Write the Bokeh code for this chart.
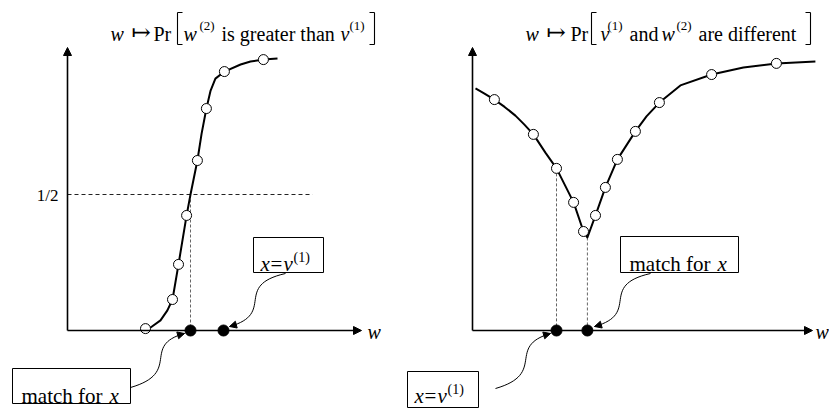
from bokeh.plotting import figure
from bokeh.layouts import row
from bokeh.models import Range1d, Arrow, NormalHead
from bokeh.core.properties import value
from bokeh.embed import file_html
from bokeh.resources import INLINE

# ---- left panel: w -> Pr[w(2) is greater than v(1)] ----
left_curve_w = [2.60, 2.77, 3.10, 3.33, 3.50, 3.70, 3.97, 4.10, 4.33, 4.47, 4.63,
                4.77, 4.93, 5.23, 5.77, 6.10, 6.53, 7.00]
left_curve_p = [0.007, 0.011, 0.037, 0.074, 0.114, 0.243, 0.423, 0.500, 0.625, 0.724,
                0.816, 0.882, 0.926, 0.952, 0.978, 0.989, 0.996, 1.000]
left_marker_w = [2.60, 3.50, 3.70, 3.97, 4.33, 4.63, 5.23, 6.53]
left_marker_p = [0.007, 0.114, 0.243, 0.423, 0.625, 0.816, 0.952, 0.996]
left_match_w = 4.10      # where the curve crosses 1/2
left_v1_w = 5.20
half_level = 0.5
half_label = "1/2"

# ---- right panel: w -> Pr[v(1) and w(2) are different] ----
right_curve_w = [0.10, 0.40, 0.73, 1.07, 1.43, 1.73, 2.03, 2.43, 2.80, 3.37, 3.70, 3.83,
                 4.10, 4.43, 4.83, 5.43, 5.80, 6.23, 6.93, 7.97, 9.03, 10.13, 11.43]
right_curve_p = [0.890, 0.871, 0.849, 0.822, 0.790, 0.757, 0.721, 0.654, 0.596, 0.471,
                 0.364, 0.342, 0.423, 0.526, 0.629, 0.732, 0.787, 0.838, 0.901, 0.941,
                 0.967, 0.982, 0.989]
right_marker_w = [0.73, 2.03, 2.80, 3.37, 3.70, 4.10, 4.43, 4.83, 5.43, 6.23, 7.97, 10.13]
right_marker_p = [0.849, 0.721, 0.596, 0.471, 0.364, 0.423, 0.526, 0.629, 0.732, 0.838,
                  0.941, 0.982]
right_v1_w, right_v1_p = 2.80, 0.596
right_match_w, right_match_p = 3.83, 0.342   # minimum of the curve

# ---- layout constants (screen pixels) ----
H = 408
PX_PER_W = 30
PX_PER_P = 272
BASE_Y = 330
SERIF = value("Liberation Serif, Times New Roman, DejaVu Serif, serif")
SYMBOL = value("DejaVu Serif, serif")


def make_panel(width, left_px, origin_px):
    x0 = (left_px - origin_px) / PX_PER_W
    x1 = (left_px + width - origin_px) / PX_PER_W
    y0 = (BASE_Y - H) / PX_PER_P
    y1 = BASE_Y / PX_PER_P
    p = figure(width=width, height=H, x_range=Range1d(x0, x1), y_range=Range1d(y0, y1),
               output_backend="svg", toolbar_location=None,
               x_axis_location=None, y_axis_location=None,
               min_border=0, outline_line_color=None)
    p.xgrid.visible = False
    p.ygrid.visible = False
    p.background_fill_color = "white"

    def at(sx, sy):
        return (sx - origin_px) / PX_PER_W, (BASE_Y - sy) / PX_PER_P
    return p, at


def text(p, at, sx, sy, s, size=20, style="normal", align="left", baseline="alphabetic",
         font=SERIF):
    x, y = at(sx, sy)
    p.text(x=[x], y=[y], text=[s], text_font=font, text_font_size=f"{size}px",
           text_font_style=style, text_align=align, text_baseline=baseline,
           text_color="black")


def bracket(p, at, sx, tick, top=12, bottom=44):
    xs, ys = [], []
    for a, b in [((sx, top), (sx, bottom)), ((sx, top), (sx + tick, top)),
                 ((sx, bottom), (sx + tick, bottom))]:
        (xa, ya), (xb, yb) = at(*a), at(*b)
        xs.append([xa, xb]); ys.append([ya, yb])
    p.multi_line(xs=xs, ys=ys, line_color="black", line_width=1.1)


def axes(p, at, x_end_px):
    _, ytop = at(0, 47)
    xend, _ = at(x_end_px, BASE_Y)
    head = dict(size=8, fill_color="black", line_color="black", line_width=1)
    p.add_layout(Arrow(x_start=0, y_start=0, x_end=0, y_end=ytop, line_width=1.6,
                       end=NormalHead(**head)))
    p.add_layout(Arrow(x_start=0, y_start=0, x_end=xend, y_end=0, line_width=1.6,
                       end=NormalHead(**head)))


def curvy_arrow(p, at, p0, c0, c1, p1):
    (x0, y0), (cx0, cy0), (cx1, cy1), (x1, y1) = at(*p0), at(*c0), at(*c1), at(*p1)
    p.bezier(x0=[x0], y0=[y0], x1=[x1], y1=[y1], cx0=[cx0], cy0=[cy0], cx1=[cx1],
             cy1=[cy1], line_color="black", line_width=1)
    dx, dy = c1[0] - p1[0], c1[1] - p1[1]
    n = (dx * dx + dy * dy) ** 0.5
    sx, sy = at(p1[0] + 6 * dx / n, p1[1] + 6 * dy / n)
    p.add_layout(Arrow(x_start=sx, y_start=sy, x_end=x1, y_end=y1, line_width=1,
                       end=NormalHead(size=7, fill_color="black", line_color="black",
                                      line_width=1)))


def box(p, at, l, t, r, b):
    (x0, y0), (x1, y1) = at(l, b), at(r, t)
    p.quad(left=[x0], right=[x1], bottom=[y0], top=[y1], fill_color="white",
           line_color="black", line_width=1)


def x_eq_v1(p, at, left, base):
    text(p, at, left + 7, base, "x", size=21, style="italic")
    text(p, at, left + 17, base, "=", size=21)
    text(p, at, left + 30, base, "v", size=21, style="italic")
    text(p, at, left + 40, base - 6, "(1)", size=14)


def match_for_x(p, at, left, base):
    text(p, at, left + 9, base, "match for", size=21)
    text(p, at, left + 97, base, "x", size=21, style="italic")


# ================= left panel =================
L, at_l = make_panel(390, 0, 67)

L.line(x=[0, 8.17], y=[half_level, half_level], line_color="#222", line_width=1,
       line_dash="4 3")
L.line(x=[left_match_w, left_match_w], y=[half_level, 0], line_color="#666",
       line_width=1, line_dash="3 2")
axes(L, at_l, 361)
L.line(x=left_curve_w, y=left_curve_p, line_color="black", line_width=2,
       line_join="round")
L.scatter(x=left_marker_w, y=left_marker_p, size=10, fill_color="white",
          line_color="black", line_width=1)
L.scatter(x=[left_match_w, left_v1_w], y=[0, 0], size=11, fill_color="black",
          line_color="black")

curvy_arrow(L, at_l, (285, 273), (232, 285), (276, 313), (229, 326))
curvy_arrow(L, at_l, (130, 387), (182, 372), (140, 345), (184, 333))
box(L, at_l, 253, 237, 323, 272)
x_eq_v1(L, at_l, 253, 263)
box(L, at_l, 12, 368, 130, 403)
match_for_x(L, at_l, 12, 395)

text(L, at_l, 58, 195, half_label, size=17, align="right", baseline="middle")
text(L, at_l, 367, 331, "w", style="italic")

# title
text(L, at_l, 110, 33, "w", style="italic")
text(L, at_l, 131, 31, "\u21a6", size=23, font=SYMBOL)
text(L, at_l, 153, 33, "Pr")
bracket(L, at_l, 177, 5)
text(L, at_l, 183, 33, "w", style="italic")
text(L, at_l, 199, 25, "(2)", size=13)
text(L, at_l, 221, 33, "is greater than")
text(L, at_l, 340, 33, "v", style="italic")
text(L, at_l, 349, 25, "(1)", size=13)
bracket(L, at_l, 374, -5)

# ================= right panel =================
R, at_r = make_panel(439, 390, 472)

R.line(x=[right_v1_w, right_v1_w], y=[right_v1_p, 0], line_color="#666",
       line_width=1, line_dash="3 2")
R.line(x=[right_match_w, right_match_w], y=[right_match_p, 0], line_color="#666",
       line_width=1, line_dash="3 2")
axes(R, at_r, 812)
R.line(x=right_curve_w, y=right_curve_p, line_color="black", line_width=2,
       line_join="round")
R.scatter(x=right_marker_w, y=right_marker_p, size=10, fill_color="white",
          line_color="black", line_width=1)
R.scatter(x=[right_v1_w, right_match_w], y=[0, 0], size=11, fill_color="black",
          line_color="black")

curvy_arrow(R, at_r, (650, 273), (597, 285), (641, 313), (594, 326))
curvy_arrow(R, at_r, (495, 388), (547, 373), (505, 346), (550, 333))
box(R, at_r, 620, 236, 738, 272)
match_for_x(R, at_r, 620, 263)
box(R, at_r, 407, 371, 478, 407)
x_eq_v1(R, at_r, 407, 395)

text(R, at_r, 815, 331, "w", style="italic")

# title
text(R, at_r, 525, 33, "w", style="italic")
text(R, at_r, 546, 31, "\u21a6", size=23, font=SYMBOL)
text(R, at_r, 570, 33, "Pr")
bracket(R, at_r, 591, 5)
text(R, at_r, 600, 33, "v", style="italic")
text(R, at_r, 607, 25, "(1)", size=13)
text(R, at_r, 629, 33, "and")
text(R, at_r, 661, 33, "w", style="italic")
text(R, at_r, 676, 25, "(2)", size=13)
text(R, at_r, 698, 33, "are different")
bracket(R, at_r, 810, -5)

layout = row(L, R)
open("out.html", "w").write(file_html(layout, INLINE))
